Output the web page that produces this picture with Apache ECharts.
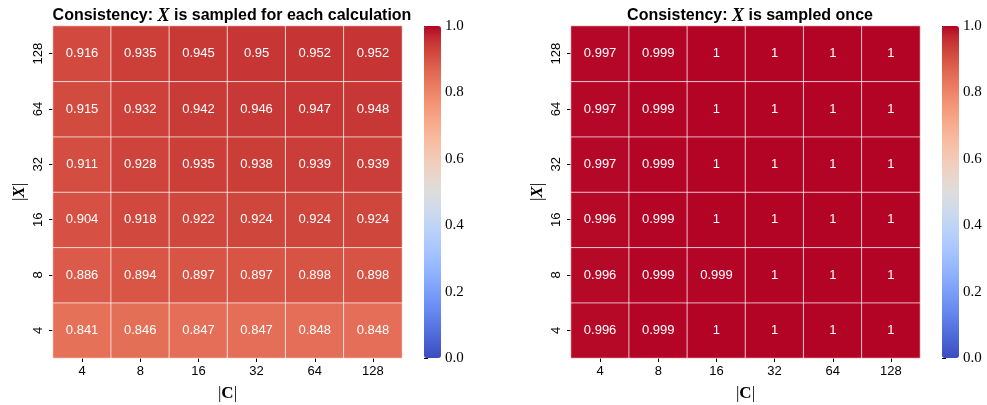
<!DOCTYPE html>
<html><head><meta charset="utf-8">
<script src="https://cdn.jsdelivr.net/npm/echarts@6/dist/echarts.min.js"></script>
<style>html,body{margin:0;padding:0;background:#fff}#c{width:987px;height:405px}</style>
</head><body><div id="c"></div>
<script>
const cLabels = ['4','8','16','32','64','128'];
const xLabels = ['4','8','16','32','64','128'];
// rows from bottom (|X|=4) to top (|X|=128)
const leftValues = [
  [0.841,0.846,0.847,0.847,0.848,0.848],
  [0.886,0.894,0.897,0.897,0.898,0.898],
  [0.904,0.918,0.922,0.924,0.924,0.924],
  [0.911,0.928,0.935,0.938,0.939,0.939],
  [0.915,0.932,0.942,0.946,0.947,0.948],
  [0.916,0.935,0.945,0.95,0.952,0.952]
];
const rightValues = [
  [0.996,0.999,1,1,1,1],
  [0.996,0.999,0.999,1,1,1],
  [0.996,0.999,1,1,1,1],
  [0.997,0.999,1,1,1,1],
  [0.997,0.999,1,1,1,1],
  [0.997,0.999,1,1,1,1]
];
const colorbarTicks = [0,0.2,0.4,0.6,0.8,1.0];
const coolwarm = ['rgb(59,76,192)','rgb(68,90,204)','rgb(77,104,215)','rgb(87,117,225)','rgb(98,130,234)','rgb(108,142,241)',
  'rgb(119,154,247)','rgb(130,165,251)','rgb(141,176,254)','rgb(152,185,255)','rgb(163,194,255)','rgb(174,201,253)',
  'rgb(184,208,249)','rgb(194,213,244)','rgb(204,217,238)','rgb(213,219,230)','rgb(221,221,221)','rgb(229,216,209)',
  'rgb(236,211,197)','rgb(241,204,185)','rgb(245,196,173)','rgb(247,187,160)','rgb(247,177,148)','rgb(247,166,135)',
  'rgb(244,154,123)','rgb(241,141,111)','rgb(236,127,99)','rgb(229,112,88)','rgb(222,96,77)','rgb(213,80,66)',
  'rgb(203,62,56)','rgb(192,40,47)','rgb(180,4,38)'];

function toData(m){const d=[];m.forEach((row,yi)=>row.forEach((v,xi)=>d.push([xi,yi,v])));return d;}

const sans = 'Liberation Sans';
const serif = 'Liberation Serif';
const G = [{left:53,top:26,width:349,height:332},{left:571,top:26,width:349,height:332}];
const CB = [{left:424,top:26,width:17,height:332},{left:942,top:26,width:17,height:332}];

const titleRich = {b:{fontFamily:sans,fontWeight:'bold',fontSize:16,color:'#000'},x:{fontFamily:serif,fontWeight:'bold',fontStyle:'italic',fontSize:18,color:'#000'}};
const yNameRich = {p:{fontFamily:serif,fontSize:17,color:'#000'},x:{fontFamily:serif,fontWeight:'bold',fontStyle:'italic',fontSize:17,color:'#000'}};
const xNameRich = {p:{fontFamily:serif,fontSize:17,color:'#000'},c:{fontFamily:serif,fontWeight:'bold',fontSize:17,color:'#000'}};

const grids=[],xAxes=[],yAxes=[],series=[],vms=[];
[leftValues,rightValues].forEach((vals,i)=>{
  grids.push(Object.assign({outerBoundsMode:'none',containLabel:false},G[i]));
  xAxes.push({type:'category',gridIndex:i,data:cLabels,name:'{p||}{c|C}{p||}',nameLocation:'middle',nameGap:27,
    nameTextStyle:{rich:xNameRich},axisLine:{show:false},axisTick:{show:true,alignWithLabel:true,length:4,lineStyle:{color:'#000'}},
    axisLabel:{fontFamily:sans,fontSize:13,color:'#000',margin:7},splitLine:{show:false}});
  yAxes.push({type:'category',gridIndex:i,data:xLabels,name:'{p||}{x|X}{p||}',nameLocation:'middle',nameGap:25,nameRotate:90,
    nameTextStyle:{rich:yNameRich},axisLine:{show:false},axisTick:{show:true,alignWithLabel:true,length:4,lineStyle:{color:'#000'}},
    axisLabel:{fontFamily:sans,fontSize:13,color:'#000',rotate:90,margin:8},splitLine:{show:false}});
  series.push({type:'heatmap',xAxisIndex:i,yAxisIndex:i,data:toData(vals),
    itemStyle:{borderColor:'rgba(255,255,255,0.7)',borderWidth:1},
    label:{show:true,color:'#fff',fontFamily:sans,fontSize:13,formatter:p=>String(p.value[2])},
    emphasis:{disabled:true}});
  vms.push({type:'continuous',min:0,max:1,seriesIndex:i,calculable:false,orient:'vertical',
    left:CB[i].left,top:CB[i].top,itemWidth:CB[i].width,itemHeight:CB[i].height,padding:0,text:null,showLabel:false,
    inRange:{color:coolwarm}});
});
// colorbar axes
CB.forEach((cb,k)=>{
  const gi = grids.length;
  grids.push(Object.assign({outerBoundsMode:'none',containLabel:false},cb));
  xAxes.push({type:'value',gridIndex:gi,show:false,min:0,max:1});
  yAxes.push({type:'value',gridIndex:gi,position:'right',min:colorbarTicks[0],max:colorbarTicks[colorbarTicks.length-1],interval:0.2,
    axisLine:{show:false},splitLine:{show:false},axisTick:{show:true,length:4,inside:false,lineStyle:{color:'#000'}},
    axisLabel:{fontFamily:serif,fontSize:15,color:'#000',margin:4,formatter:v=>v.toFixed(1)}});
  series.push({type:'scatter',xAxisIndex:gi,yAxisIndex:gi,data:[],silent:true});
});

const chart = echarts.init(document.getElementById('c'),null,{renderer:'canvas'});
chart.setOption({
  animation:false,
  title:[
    {text:'{b|Consistency: }{x|X}{b| is sampled for each calculation}',left:227,top:2,textAlign:'center',textStyle:{rich:titleRich}},
    {text:'{b|Consistency: }{x|X}{b| is sampled once}',left:745,top:2,textAlign:'center',textStyle:{rich:titleRich}}
  ],
  grid:grids,xAxis:xAxes,yAxis:yAxes,visualMap:vms,series:series
});
</script></body></html>
